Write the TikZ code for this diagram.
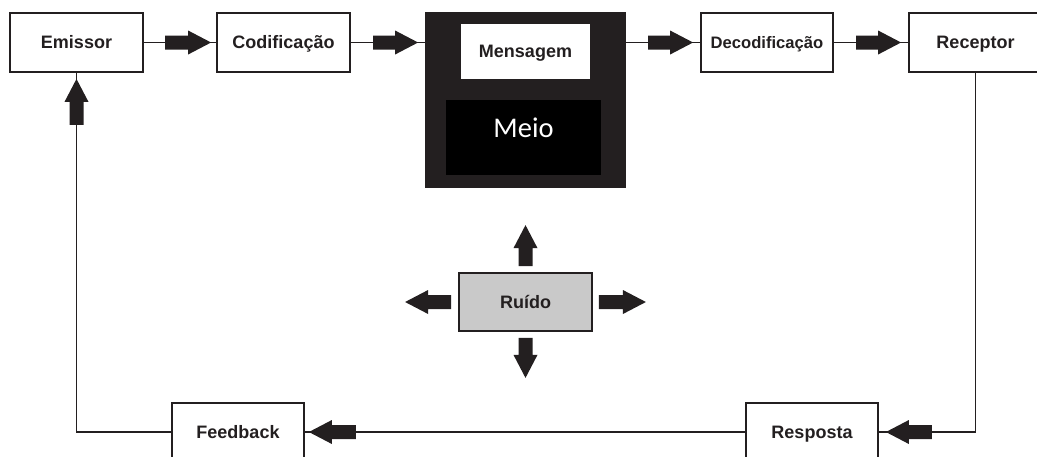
\documentclass[tikz,border=0pt]{standalone}
\usepackage{fontspec}
\setmainfont{Liberation Sans}
\newfontfamily\meiofont{Carlito}
\usetikzlibrary{decorations.markings}
\definecolor{ink}{HTML}{231F20}
\definecolor{noisegray}{HTML}{C9C9C9}
\tikzset{
  box/.style={draw=ink, line width=1.8pt, fill=white, minimum width=133pt, minimum height=59pt,
    inner sep=0pt, font=\bfseries\fontsize{18}{20}\selectfont, text=ink,
    text height=12.9pt, text depth=0pt},
  conn/.style={draw=ink, line width=1.8pt},
  fat/.style 2 args={postaction={decorate, decoration={markings,
    mark=at position #1 with {\fill[ink] (0pt,0pt) -- (-23pt,12pt) -- (-23pt,7pt) -- (-#2,7pt)
      -- (-#2,-7pt) -- (-23pt,-7pt) -- (-23pt,-12pt) -- cycle;}}}},
}
\begin{document}
\begin{tikzpicture}[x=1pt,y=-1pt]
\useasboundingbox (0,0) rectangle (1037,456);
\clip (0,0) rectangle (1037,456);
\fill[white] (0,0) rectangle (1037,456);

\node[box] (emissor) at (76.5,42.5) {Emissor};
\node[box] (codif) at (283.5,42.5) {Codificação};
\node[box, fill=ink, minimum width=199pt, minimum height=174pt] (canal) at (525.5,100) {};
\node[box, draw=none, minimum width=129pt, minimum height=55pt] (mensagem) at (525.5,51.5) {Mensagem};
\node[fill=black, minimum width=155pt, minimum height=75pt, inner sep=0pt, text=white,
  font=\meiofont\fontsize{28.5}{30}\selectfont] (meio) at (523.5,137.5) {\raisebox{0pt}[0pt][0pt]{Meio}};
\node[box, minimum width=132pt, font=\bfseries\fontsize{16.6}{19}\selectfont, text height=11.9pt] (decod) at (767,42.5) {Decodificação};
\node[box] (receptor) at (975.5,42.5) {Receptor};
\node[box, fill=noisegray, minimum height=58pt] (ruido) at (525.5,302) {Ruído};
\node[box, minimum width=132pt, minimum height=58pt] (feedback) at (238,432) {Feedback};
\node[box, minimum width=132pt, minimum height=58pt] (resposta) at (812,432) {Resposta};

\draw[conn, fat={-5pt}{46pt}] (emissor) -- (codif);
\draw[conn, fat={-7pt}{45pt}] (codif.east) -- (codif.east -| canal.west);
\draw[conn, fat={-7pt}{45pt}] (decod.west -| canal.east) -- (decod.west);
\draw[conn, fat={-7pt}{45pt}] (decod) -- (receptor);
\draw[conn, fat={-7pt}{46pt}] (receptor.south) -- (receptor.south |- resposta.east) -- (resposta.east);
\draw[conn, fat={-4pt}{47pt}] (resposta) -- (feedback);
\draw[conn, fat={-6pt}{46pt}] (feedback.west) -- (emissor.south |- feedback.west) -- (emissor.south);

\path[fat={1}{41pt}] ([yshift=6pt]ruido.north) -- ([yshift=47pt]ruido.north);
\path[fat={1}{40pt}] ([yshift=-6pt]ruido.south) -- ([yshift=-46pt]ruido.south);
\path[fat={1}{46pt}] ([xshift=-7pt]ruido.west) -- ([xshift=-53pt]ruido.west);
\path[fat={1}{47pt}] ([xshift=6pt]ruido.east) -- ([xshift=53pt]ruido.east);
\end{tikzpicture}
\end{document}
